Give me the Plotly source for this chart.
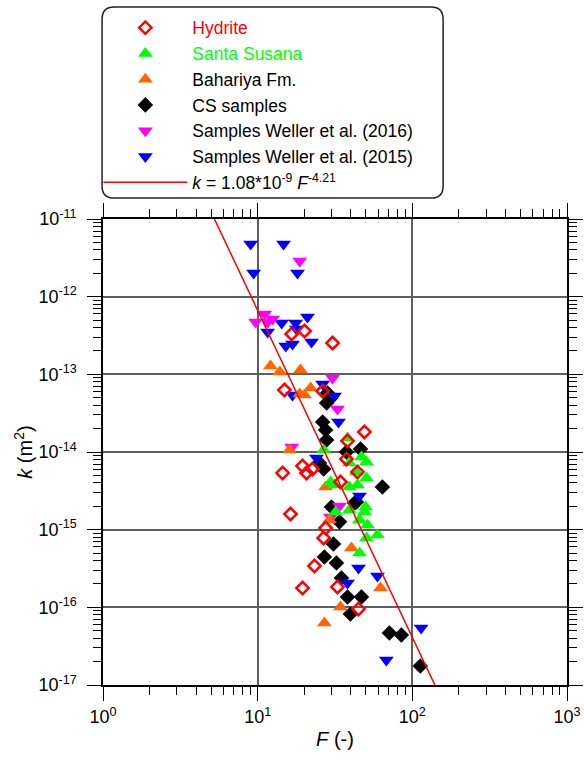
import numpy as np
import plotly.graph_objects as go

# ---- data (F, k) ----
hyd_F = [16.6, 20.1, 30.5, 14.9, 26.3, 49.0, 38.1, 37.5, 14.5, 19.5, 20.7, 22.6, 44.2, 34.3,
         16.3, 27.5, 26.7, 23.3, 19.5, 32.8, 44.9]
hyd_k = [3.31e-13, 3.61e-13, 2.53e-13, 6.29e-14, 6.10e-14, 1.81e-14, 1.39e-14, 8.13e-15, 5.37e-15,
         6.60e-15, 5.37e-15, 6.04e-15, 5.53e-15, 4.11e-15, 1.59e-15, 1.05e-15, 7.82e-16, 3.41e-16,
         1.77e-16, 1.83e-16, 9.52e-17]

ss_F = [26.7, 38.1, 39.2, 46.9, 50.5, 43.5, 50.5, 44.2, 31.4, 29.6, 39.2, 49.8, 31.9, 39.2,
        49.0, 45.5, 51.3, 59.5, 50.5, 45.5]
ss_k = [1.06e-14, 1.51e-14, 7.22e-15, 8.63e-15, 7.44e-15, 5.53e-15, 4.63e-15, 3.76e-15, 3.76e-15,
        4.11e-15, 3.55e-15, 1.96e-15, 1.69e-15, 1.79e-15, 1.69e-15, 1.33e-15, 1.15e-15, 8.55e-16,
        7.82e-16, 5.01e-16]

bah_F = [12.1, 13.9, 18.9, 18.7, 22.0, 20.1, 16.1, 27.5, 29.1, 40.4, 62.2, 34.3, 27.0]
bah_k = [1.28e-13, 1.07e-13, 1.14e-13, 5.58e-14, 6.67e-14, 5.42e-14, 1.06e-14, 3.55e-15, 1.33e-15,
         5.81e-16, 1.77e-16, 1.01e-16, 6.29e-17]

cs_F = [28.3, 29.6, 27.9, 26.3, 27.5, 27.9, 25.1, 26.7, 37.5, 46.2, 64.0, 43.5, 30.0, 42.3,
        33.8, 30.9, 27.0, 32.3, 34.8, 38.1, 46.9, 39.8, 71.1, 84.9, 112.6]
cs_k = [5.75e-14, 4.96e-14, 4.27e-14, 2.43e-14, 1.92e-14, 1.43e-14, 7.22e-15, 6.04e-15, 1.00e-14,
        1.09e-14, 3.55e-15, 2.27e-15, 1.96e-15, 2.20e-15, 1.26e-15, 6.55e-16, 4.45e-16, 3.72e-16,
        2.39e-16, 1.36e-16, 1.36e-16, 8.21e-17, 4.67e-17, 4.41e-17, 1.76e-17]

w16_F = [18.7, 11.1, 9.70, 12.5, 11.6, 30.5, 32.8, 16.6, 33.8, 29.6]
w16_k = [2.88e-12, 5.98e-13, 4.72e-13, 5.16e-13, 4.72e-13, 8.97e-14, 3.58e-14, 1.16e-14, 2.02e-15,
         1.46e-15]

w15_F = [9.01, 14.7, 9.42, 18.1, 11.6, 14.3, 17.6, 21.0, 17.8, 15.2, 16.8, 22.3, 16.8, 26.3,
         31.4, 33.3, 24.0, 45.5, 44.9, 59.5, 38.1, 114.0, 67.9]
w15_k = [4.77e-12, 4.77e-12, 2.02e-12, 2.02e-12, 3.51e-13, 4.58e-13, 4.58e-13, 5.47e-13, 3.84e-13,
         2.32e-13, 2.46e-13, 2.61e-13, 5.42e-14, 7.51e-14, 5.26e-14, 2.43e-14, 8.38e-15, 2.72e-15,
         3.21e-16, 2.54e-16, 2.06e-16, 5.42e-17, 2.10e-17]

# fitted power law as drawn in the chart
fit_A = 1.08e-8
fit_B = -4.21
fit_F = np.logspace(0.5, 2.4, 200)
fit_k = fit_A * fit_F ** fit_B

x_tickvals = [1, 10, 100, 1000]
x_ticktext = ["10<sup>0</sup>", "10<sup>1</sup>", "10<sup>2</sup>", "10<sup>3</sup>"]
y_tickvals = [1e-17, 1e-16, 1e-15, 1e-14, 1e-13, 1e-12, 1e-11]
y_ticktext = ["10<sup>-17</sup>", "10<sup>-16</sup>", "10<sup>-15</sup>", "10<sup>-14</sup>",
              "10<sup>-13</sup>", "10<sup>-12</sup>", "10<sup>-11</sup>"]

FONT = "Liberation Sans, Arial, sans-serif"

fig = go.Figure()

fig.add_trace(go.Scatter(x=cs_F, y=cs_k, mode="markers", name="CS samples", legendrank=4,
                         marker=dict(symbol="diamond", size=12, color="black")))
fig.add_trace(go.Scatter(x=w15_F, y=w15_k, mode="markers", name="Samples Weller et al. (2015)",
                         legendrank=6,
                         marker=dict(symbol="triangle-down", size=13, color="#0000ff")))
fig.add_trace(go.Scatter(x=w16_F, y=w16_k, mode="markers", name="Samples Weller et al. (2016)",
                         legendrank=5,
                         marker=dict(symbol="triangle-down", size=13, color="#ff00ff")))
fig.add_trace(go.Scatter(x=bah_F, y=bah_k, mode="markers", name="Bahariya Fm.", legendrank=3,
                         marker=dict(symbol="triangle-up", size=13, color="#ff6600")))
fig.add_trace(go.Scatter(x=ss_F, y=ss_k, mode="markers",
                         name="<span style='color:#00ff00'>Santa Susana</span>", legendrank=2,
                         marker=dict(symbol="triangle-up", size=13, color="#00ff00")))
fig.add_trace(go.Scatter(x=hyd_F, y=hyd_k, mode="markers",
                         name="<span style='color:#ff0000'>Hydrite</span>", legendrank=1,
                         marker=dict(symbol="diamond-open", size=9.5, color="#ff0000",
                                     line=dict(width=2.5, color="#ff0000"))))
fig.add_trace(go.Scatter(x=fit_F, y=fit_k, mode="lines", legendrank=7,
                         name="<i>k</i> = 1.08*10<sup>-9</sup> <i>F</i><sup>-4.21</sup>",
                         line=dict(color="#ff0000", width=1.5)))

axis_common = dict(
    type="log", showline=True, linecolor="black", linewidth=1.5, mirror="ticks",
    ticks="outside", ticklen=14, tickwidth=1.3, tickcolor="black",
    showgrid=True, gridcolor="#5e5e5e", gridwidth=1.5, zeroline=False,
    tickfont=dict(family=FONT, size=18, color="black"),
)

minor_x = [m * 10 ** d for d in range(0, 3) for m in range(2, 10)]
minor_y = [m * 10.0 ** d for d in range(-17, -11) for m in range(2, 10)]

fig.update_xaxes(**axis_common, range=[0, 3], tickmode="array", tickvals=x_tickvals,
                 ticktext=x_ticktext, ticklabelstandoff=1,
                 minor=dict(ticks="outside", ticklen=8, tickwidth=1.3, tickcolor="black",
                            showgrid=False, tickmode="array", tickvals=minor_x),
                 title=dict(text="<i>F</i> (-)", font=dict(family=FONT, size=20, color="black"),
                            standoff=6))
fig.update_yaxes(**axis_common, range=[-17, -11], tickmode="array", tickvals=y_tickvals,
                 ticktext=y_ticktext, ticklabelstandoff=7,
                 minor=dict(ticks="outside", ticklen=8, tickwidth=1.3, tickcolor="black",
                            showgrid=False, tickmode="array", tickvals=minor_y),
                 title=dict(text="<i>k</i> (m<sup>2</sup>)", font=dict(family=FONT, size=20, color="black"),
                            standoff=0))

# rounded legend frame
L, R = -0.002, 0.733
T, B = 1.455, 1.045
rx, ry = 0.026, 0.026
path = (f"M {L+rx},{T} L {R-rx},{T} Q {R},{T} {R},{T-ry} L {R},{B+ry} Q {R},{B} {R-rx},{B} "
        f"L {L+rx},{B} Q {L},{B} {L},{B+ry} L {L},{T-ry} Q {L},{T} {L+rx},{T} Z")
fig.add_shape(type="path", xref="paper", yref="paper", path=path,
              line=dict(color="#222222", width=1.5), fillcolor="rgba(0,0,0,0)")

fig.update_layout(
    width=584, height=761,
    margin=dict(l=103, r=17, t=219, b=76, autoexpand=False),
    paper_bgcolor="white", plot_bgcolor="white",
    font=dict(family=FONT, size=18, color="black"),
    showlegend=True,
    legend=dict(x=-0.01, y=1.449, xanchor="left", yanchor="top", itemwidth=84,
                bgcolor="rgba(0,0,0,0)", borderwidth=0, traceorder="normal",
                font=dict(family=FONT, size=17.5, color="black")),
)

fig.write_html("out.html")
